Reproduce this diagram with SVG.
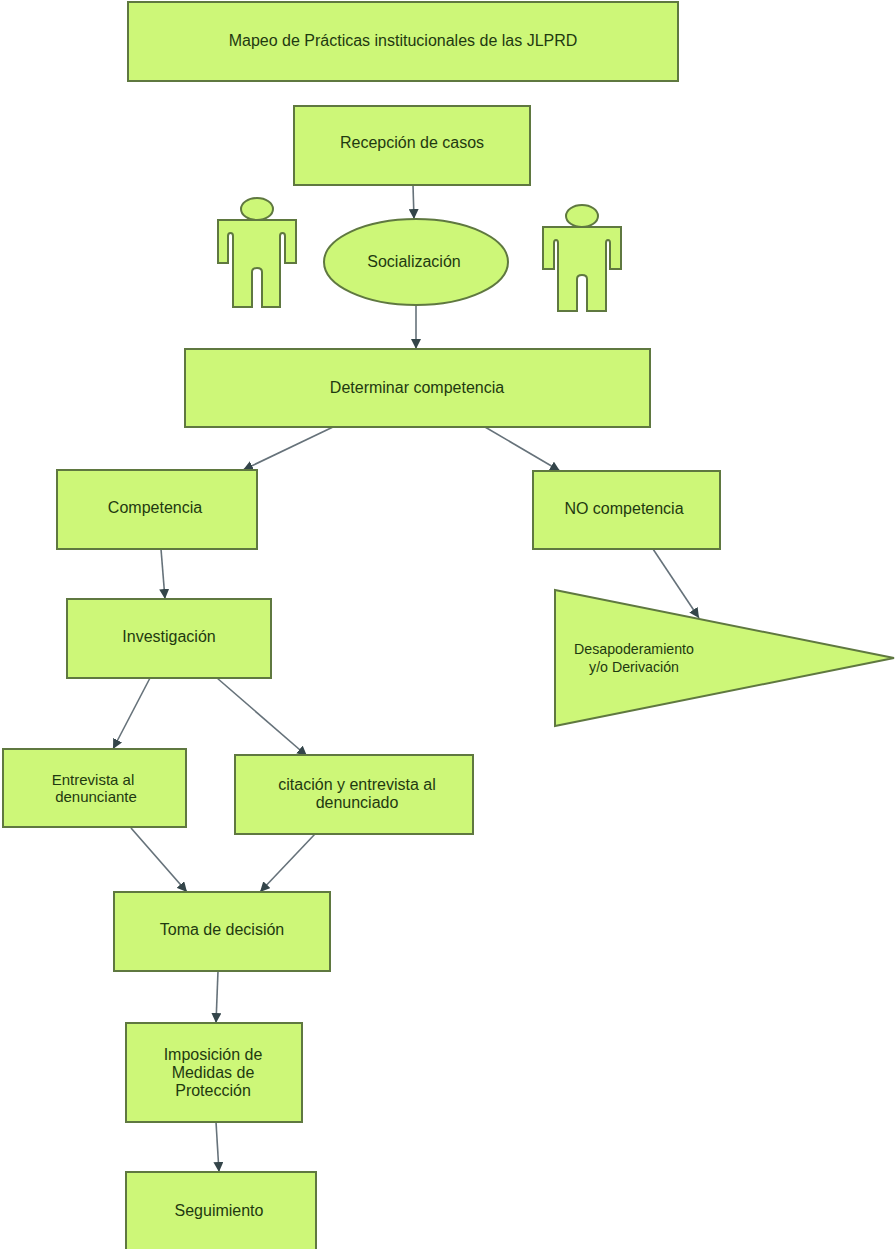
<svg xmlns="http://www.w3.org/2000/svg" width="896" height="1249" viewBox="0 0 896 1249">
<style>
.n{fill:#cdf778;stroke:#5f7840;stroke-width:2}
.t{font-family:"Liberation Sans",Arial,sans-serif;font-size:16px;fill:#1f3a10;text-anchor:middle}
.s{font-size:14.2px}
.e{font-size:15px}
.c{stroke:#66727a;stroke-width:1.6;fill:none;marker-end:url(#a)}
</style>
<defs><marker id="a" markerUnits="userSpaceOnUse" markerWidth="12" markerHeight="10" refX="10" refY="5" orient="auto"><path d="M0 0L10 5L0 10Z" fill="#34454a"/></marker></defs>
<rect width="896" height="1249" fill="#fff"/>
<g id="connectors">
<path class="c" d="M413 185L414 219"/>
<path class="c" d="M416 306L416 349"/>
<path class="c" d="M333 427L243 470"/>
<path class="c" d="M485 427L560 471"/>
<path class="c" d="M161 549L165 599"/>
<path class="c" d="M653 549L699 618"/>
<path class="c" d="M150 678L113 749"/>
<path class="c" d="M217 678L307 756"/>
<path class="c" d="M131 828L187 892"/>
<path class="c" d="M315 834L260 892"/>
<path class="c" d="M218 971L216 1023"/>
<path class="c" d="M216 1122L219 1172"/>
</g>
<g id="titulo"><rect class="n" x="128" y="2" width="550" height="79"/><text class="t" x="403" y="46">Mapeo de Prácticas institucionales de las JLPRD</text></g>
<g id="recepcion"><rect class="n" x="294" y="106" width="236" height="79"/><text class="t" x="412" y="148">Recepción de casos</text></g>
<g id="persona1"><ellipse class="n" cx="257" cy="209" rx="16" ry="11"/><path class="n" d="M218 220H296V263H285V236Q285 233 282.500 233Q280 233 280 236V307H262V272Q262 268 257 268Q252 268 252 272V307H233V236Q233 233 230.500 233Q228 233 228 236V263H218Z"/></g>
<g id="socializacion"><ellipse class="n" cx="416" cy="262" rx="92" ry="43"/><text class="t" x="414" y="267">Socialización</text></g>
<g id="persona2"><ellipse class="n" cx="582" cy="216" rx="16" ry="11"/><path class="n" d="M543 227H621V269H610V243Q610 240 608 240Q606 240 606 243V311H587V279Q587 275 582 275Q577 275 577 279V311H558V243Q558 240 556 240Q554 240 554 243V269H543Z"/></g>
<g id="determinar"><rect class="n" x="185" y="349" width="465" height="78"/><text class="t" x="417" y="393">Determinar competencia</text></g>
<g id="competencia"><rect class="n" x="57" y="470" width="200" height="79"/><text class="t" x="155" y="513">Competencia</text></g>
<g id="nocompetencia"><rect class="n" x="533" y="471" width="187" height="78"/><text class="t" x="624" y="514">NO competencia</text></g>
<g id="desapoderamiento"><path class="n" d="M555 590L894 658L555 726Z"/><text class="t s" x="634" y="654">Desapoderamiento</text><text class="t s" x="634" y="672">y/o Derivación</text></g>
<g id="investigacion"><rect class="n" x="67" y="599" width="204" height="79"/><text class="t" x="169" y="642">Investigación</text></g>
<g id="entrevista"><rect class="n" x="3" y="749" width="183" height="78"/><text class="t e" x="93" y="785">Entrevista al</text><text class="t e" x="96" y="802">denunciante</text></g>
<g id="citacion"><rect class="n" x="235" y="755" width="238" height="79"/><text class="t" x="357" y="790">citación y entrevista al</text><text class="t" x="357" y="808">denunciado</text></g>
<g id="decision"><rect class="n" x="114" y="892" width="216" height="79"/><text class="t" x="222" y="935">Toma de decisión</text></g>
<g id="medidas"><rect class="n" x="126" y="1023" width="176" height="99"/><text class="t" x="213" y="1060">Imposición de</text><text class="t" x="213" y="1078">Medidas de</text><text class="t" x="213" y="1096">Protección</text></g>
<g id="seguimiento"><rect class="n" x="126" y="1172" width="190" height="78"/><text class="t" x="219" y="1216">Seguimiento</text></g>
</svg>
